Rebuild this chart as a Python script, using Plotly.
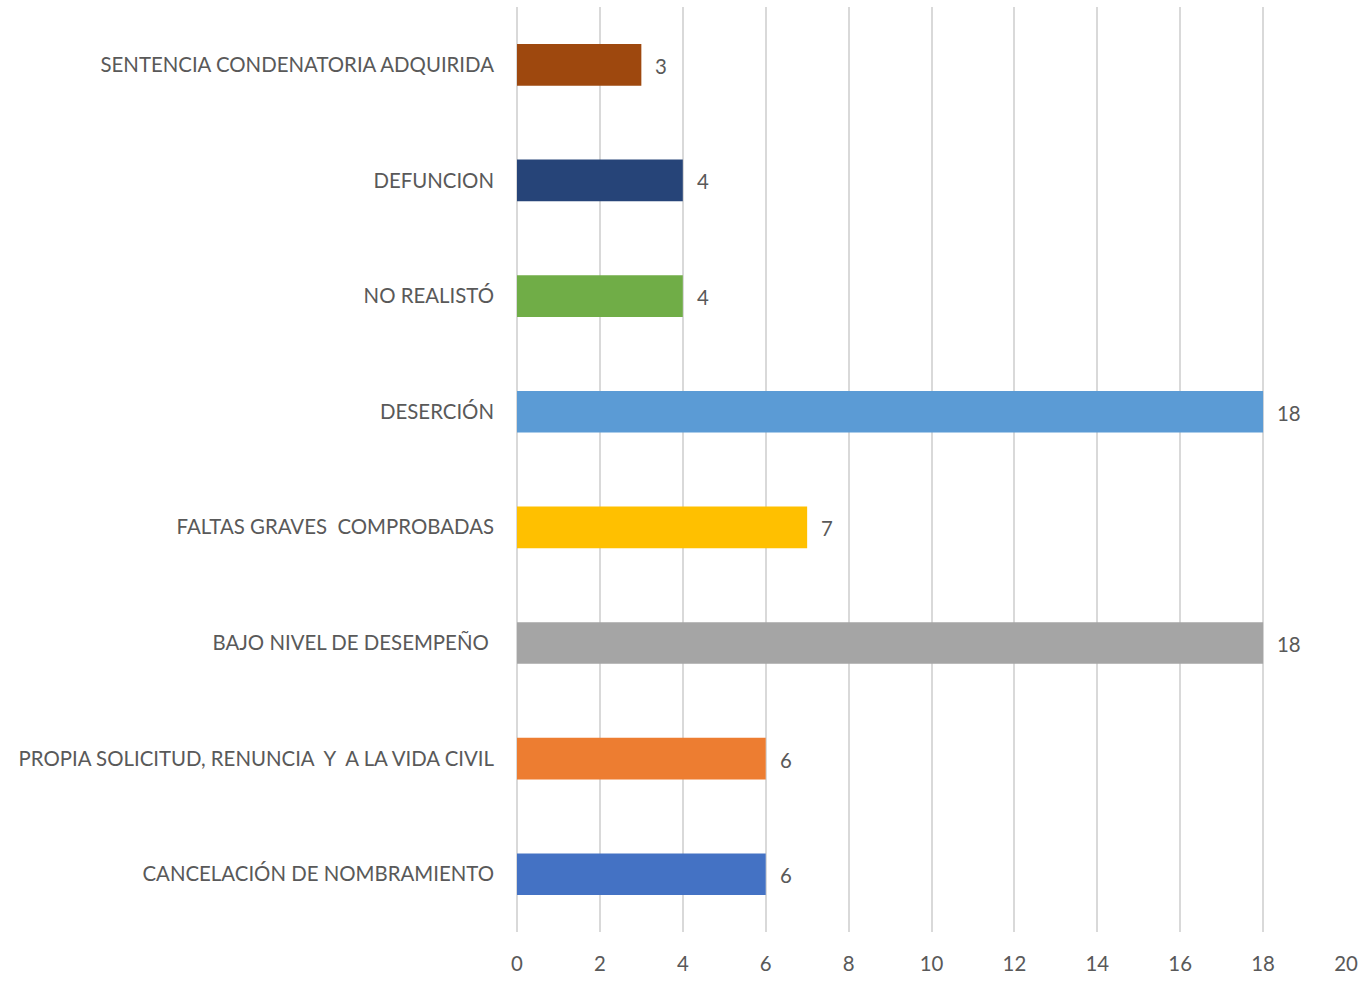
import plotly.graph_objects as go

categories = [
    "CANCELACIÓN DE NOMBRAMIENTO",
    "PROPIA SOLICITUD, RENUNCIA \u00a0Y \u00a0A LA VIDA CIVIL",
    "BAJO NIVEL DE DESEMPEÑO\u00a0",
    "FALTAS GRAVES \u00a0COMPROBADAS",
    "DESERCIÓN",
    "NO REALISTÓ",
    "DEFUNCION",
    "SENTENCIA CONDENATORIA ADQUIRIDA",
]
values = [6, 6, 18, 7, 18, 4, 4, 3]
colors = ["#4472C4", "#ED7D31", "#A5A5A5", "#FFC000", "#5B9BD5", "#70AD47", "#264478", "#9E480E"]

FONT = "Lato, Open Sans, sans-serif"
TXT = "#595959"
FS = 20.4

fig = go.Figure(go.Bar(
    x=values, y=categories, orientation="h",
    marker=dict(color=colors, line=dict(width=0)),
    width=0.36, hoverinfo="x+y",
))

for c, v in zip(categories, values):
    fig.add_annotation(x=v, y=c, text=str(v), showarrow=False,
                       xanchor="left", xshift=12, yshift=-1,
                       font=dict(family=FONT, size=FS, color=TXT))

fig.update_layout(
    width=1365, height=982,
    margin=dict(l=517, r=14, t=7, b=29),
    paper_bgcolor="white", plot_bgcolor="white",
    showlegend=False,
    font=dict(family=FONT, size=FS, color=TXT),
    bargap=0.64,
)
fig.update_xaxes(range=[0, 20], dtick=2, showgrid=True, gridcolor="#D9D9D9", gridwidth=1.5,
                 zeroline=True, zerolinecolor="#D9D9D9", zerolinewidth=1.5,
                 showline=False, ticks="", ticklabelstandoff=18, ticklabeloverflow="allow",
                 tickfont=dict(family=FONT, size=FS, color=TXT))
fig.update_yaxes(showgrid=False, showline=False, ticks="", ticklabelstandoff=22,
                 range=[-0.5, 7.5],
                 tickfont=dict(family=FONT, size=FS, color=TXT))

fig.write_html("out.html", config={"displayModeBar": False},
               post_script="document.body.style.margin='0';document.body.style.overflow='hidden';")
